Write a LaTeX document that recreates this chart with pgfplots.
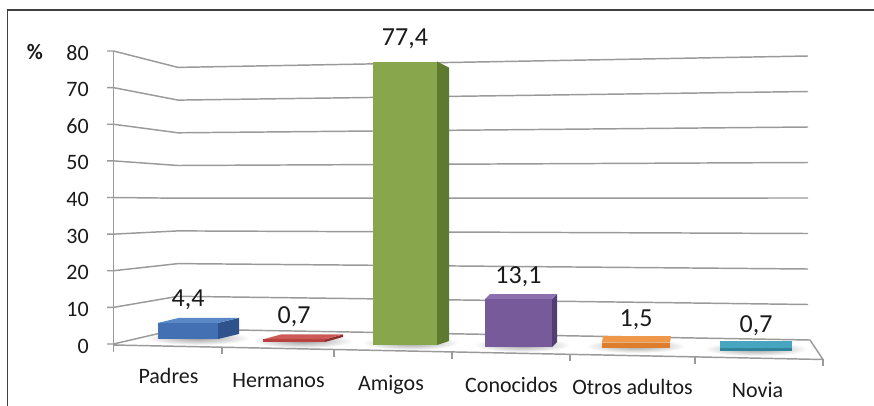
\documentclass[border=0pt]{standalone}
\usepackage{pgfplots}
\pgfplotsset{compat=1.18}
\usepackage{fontspec}
\setmainfont{Carlito}
\definecolor{gridc}{HTML}{9A9A9A}
\definecolor{framec}{HTML}{404040}
\definecolor{txt}{HTML}{1A1A1A}
\definecolor{padF}{HTML}{4270B2}\definecolor{padT}{HTML}{5A88C6}\definecolor{padS}{HTML}{2E538C}
\definecolor{herF}{HTML}{B8423F}\definecolor{herT}{HTML}{CC5A57}\definecolor{herS}{HTML}{8C302E}
\definecolor{amiF}{HTML}{88A74C}\definecolor{amiS}{HTML}{5E7A2E}
\definecolor{conF}{HTML}{765A99}\definecolor{conT}{HTML}{8C70AE}\definecolor{conS}{HTML}{523E73}
\definecolor{otrF}{HTML}{DC7E2C}\definecolor{otrT}{HTML}{F0984A}
\definecolor{novF}{HTML}{2F839B}\definecolor{novT}{HTML}{48A5C0}
\newcommand{\axfont}{\fontsize{16.5}{19}\selectfont}
\newcommand{\dlfont}{\fontsize{19.5}{22}\selectfont}
\begin{document}
\begin{tikzpicture}
% decorations in pixel coordinates (origin top-left)
\begin{scope}[x=0.75pt,y=-0.75pt,yshift=303.75pt]
  % soft floor shadows
  \foreach \cx/\cy/\rx in {198/338/52, 303/341/50, 411/343/48, 522/345/48, 636/346/50, 756/349/52} {
    \shade[inner color=black!38, outer color=white] (\cx,\cy) ellipse ({\rx} and 7);
  }
  \draw[framec, line width=1.1pt] (7.3,420) -- (7.3,10) -- (890,10);
  \foreach \v in {10,20,...,80} {
    \draw[gridc, line width=1.1pt] (107,{344-3.6625*\v}) -- (113.5,{344-3.6625*\v}) -- (178,{329-3.27*\v}) -- (808,{340-3.55*\v});
  }
  % floor
  \draw[gridc, line width=1.1pt, line join=round] (107,344) -- (113.5,344) -- (178,329) -- (810,340) -- (823,359.5) -- (113.5,345);
  % y axis line
  \draw[gridc, line width=1.1pt] (113.5,51) -- (113.5,352);
  % category ticks
  \foreach \x in {222,334,452,570,695,823} {
    \draw[gridc, line width=1.1pt] (\x,{345+(\x-113)*0.0204}) -- (\x,{352+(\x-113)*0.0204});
  }
  \node[font=\bfseries\axfont, text=txt] at (35,52) {\%};
\end{scope}
\begin{axis}[
  at={(0,0)}, anchor=south west, scale only axis,
  width=655.5pt, height=303.75pt,
  xmin=0, xmax=874, ymin=-16.6553, ymax=93.9249,
  axis line style={draw=none}, major tick length=0pt, tick style={draw=none},
  clip=false,
  xtick={168.5,278.5,391,511.5,632.5,757.5},
  xticklabels={{\raisebox{0pt}[0pt][0pt]{Padres}},{\raisebox{-3pt}[0pt][0pt]{Hermanos}},{\raisebox{-5.25pt}[0pt][0pt]{Amigos}},{\raisebox{-6.75pt}[0pt][0pt]{Conocidos}},{\raisebox{-8.25pt}[0pt][0pt]{Otros adultos}},{\raisebox{-10.5pt}[0pt][0pt]{Novia}}},
  xticklabel style={anchor=base, inner sep=0pt, yshift=16.5pt, font=\axfont, text=txt},
  ytick={0,10,20,30,40,50,60,70,80},
  yticklabels={0,10,20,30,40,50,60,70,80},
  yticklabel style={anchor=east, inner sep=0pt, xshift=66.75pt, yshift=-1.5pt, font=\axfont, text=txt},
]
% Padres
\addplot[fill=padS, draw=none, yshift=3.75pt] coordinates {(218,0) (239,1.365) (239,5.765) (218,4.4)} -- cycle;
\addplot[fill=padT, draw=none, yshift=3.75pt] coordinates {(158,4.4) (218,4.4) (239,5.765) (179,5.765)} -- cycle;
\addplot[ybar, bar shift=0pt, bar width=60, fill=padF, draw=none, yshift=3.75pt,
  point meta=explicit symbolic, nodes near coords,
  nodes near coords style={anchor=base, yshift=12pt, font=\dlfont, text=txt}]
  coordinates {(188,4.4) [{4,4}]};
% Hermanos
\addplot[fill=herS, draw=none, yshift=1.5pt] coordinates {(325,0) (343,1.365) (343,2.065) (325,0.7)} -- cycle;
\addplot[fill=herT, draw=none, yshift=1.5pt] coordinates {(263,0.7) (325,0.7) (343,2.065) (281,2.065)} -- cycle;
\addplot[ybar, bar shift=0pt, bar width=62, fill=herF, draw=none, yshift=1.5pt,
  point meta=explicit symbolic, nodes near coords,
  nodes near coords style={anchor=base, yshift=12pt, font=\dlfont, text=txt}]
  coordinates {(294,0.7) [{0,7}]};
% Amigos
\addplot[fill=amiS, draw=none, yshift=-0.75pt] coordinates {(437,0) (449,1.092) (449,75.762) (437,77.4)} -- cycle;
\addplot[ybar, bar shift=0pt, bar width=64, fill=amiF, draw=none, yshift=-0.75pt,
  point meta=explicit symbolic, nodes near coords,
  nodes near coords style={anchor=base, yshift=12pt, font=\dlfont, text=txt}]
  coordinates {(405,77.4) [{77,4}]};
% Conocidos
\addplot[fill=conS, draw=none, yshift=-2.25pt] coordinates {(552,0) (557,1.365) (557,14.465) (552,13.1)} -- cycle;
\addplot[fill=conT, draw=none, yshift=-2.25pt] coordinates {(485,13.1) (552,13.1) (557,14.465) (490,14.465)} -- cycle;
\addplot[ybar, bar shift=0pt, bar width=67, fill=conF, draw=none, yshift=-2.25pt,
  point meta=explicit symbolic, nodes near coords,
  nodes near coords style={anchor=base, yshift=12pt, font=\dlfont, text=txt}]
  coordinates {(518.5,13.1) [{13,1}]};
% Otros adultos
\addplot[fill=otrT, draw=none, yshift=-3pt] coordinates {(602,1.5) (670,1.5) (671,3.275) (603,3.275)} -- cycle;
\addplot[ybar, bar shift=0pt, bar width=68, fill=otrF, draw=none, yshift=-3pt,
  point meta=explicit symbolic, nodes near coords,
  nodes near coords style={anchor=base, yshift=12pt, font=\dlfont, text=txt}]
  coordinates {(636,1.5) [{1,5}]};
% Novia
\addplot[fill=novT, draw=none, yshift=-5.25pt] coordinates {(720,0.7) (792,0.7) (792,2.611) (720,2.611)} -- cycle;
\addplot[ybar, bar shift=0pt, bar width=72, fill=novF, draw=none, yshift=-5.25pt,
  point meta=explicit symbolic, nodes near coords,
  nodes near coords style={anchor=base, yshift=12pt, font=\dlfont, text=txt}]
  coordinates {(756,0.7) [{0,7}]};
\end{axis}
\pgfresetboundingbox
\useasboundingbox (0,0) rectangle (655.5pt,303.75pt);
\end{tikzpicture}
\end{document}
